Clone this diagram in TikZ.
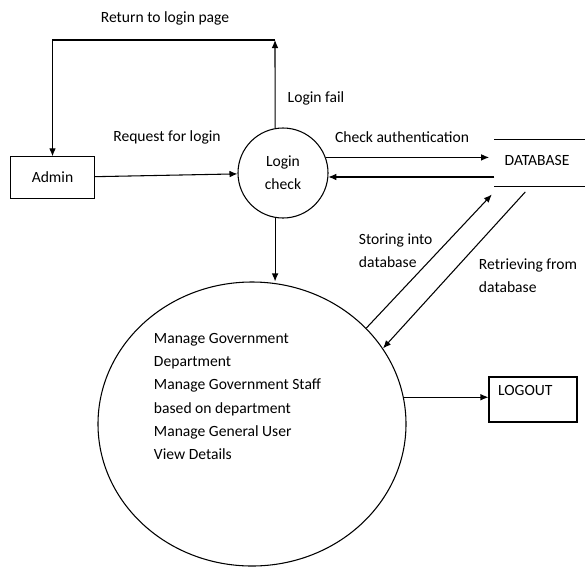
\documentclass[tikz,border=0pt]{standalone}
\usepackage{fontspec}
\setmainfont{Carlito}
\usetikzlibrary{shapes.geometric, arrows.meta}
\begin{document}
\begin{tikzpicture}
[x=0.75pt, y=-0.75pt, >={Latex[length=6pt,width=5pt]},
% STYLES
every node/.style={font=\fontsize{11.7}{17.5}\selectfont},
every path/.style={line width=0.8pt},
% The process style is used to draw the bubbles
process/.style={circle, draw, inner sep=0pt, align=center},
% The entity style is used to draw the boxes
entity/.style={rectangle, draw},
flow/.style={->}]

\useasboundingbox (0,0) rectangle (585,568);

% Draw entities and processes
\node [entity, minimum width=63pt, minimum height=31pt] (admin) at (52.5,177.5) {Admin};
\node [process, minimum size=67.5pt] (login) at (283,173) {Login\\check};
\node [ellipse, draw, minimum width=231pt, minimum height=213pt] (manage) at (252,424) {};
\node [anchor=north west, align=left] (tasks) at (149,328) {Manage Government\\Department\\Manage Government Staff\\based on department\\Manage General User\\View Details};
\node [minimum width=67.5pt, minimum height=34.5pt] (db) at (540,163) {};
\node (dbname) at (537,160) {DATABASE};
\draw (db.north west) -- (db.north east);
\draw (db.south west) -- (db.south east);
\node [entity, minimum width=66pt, minimum height=33.75pt] (logout) at (533,399.5) {};
\node [anchor=west] (logoutname) at ([xshift=3.5pt,yshift=6.4pt]logout.west) {LOGOUT};

% Draw flows
\coordinate (ret) at (275,40);
\draw [flow] (admin) -- (login);
\draw [flow] (login.100) -- (ret);
\draw [flow] (ret) -| (admin);
\draw [flow] (login.260) -- (login.260 |- manage.north);
\draw [flow] (login.20) -- ([xshift=-4pt]login.20 -| db.west);
\draw [flow] (login.-5 -| db.west) -- (login.-5);
\draw [flow] (manage.40) -- ([xshift=-2pt,yshift=-6pt]db.south west);
\draw [flow] ([xshift=-11pt,yshift=-4pt]db.south) -- (manage.30);
\draw [flow] (manage.10) -- (manage.10 -| logout.west);

% Labels
\node (lret) at (165,18) {Return to login page};
\node (lfail) at (316,98) {Login fail};
\node (lreq) at (167,137) {Request for login};
\node (lcheck) at (402,137) {Check authentication};
\node [anchor=west, align=left] (lstore) at (354,251) {Storing into\\database};
\node [anchor=west, align=left] (lget) at (474,275.5) {Retrieving from\\database};

\end{tikzpicture}
\end{document}
